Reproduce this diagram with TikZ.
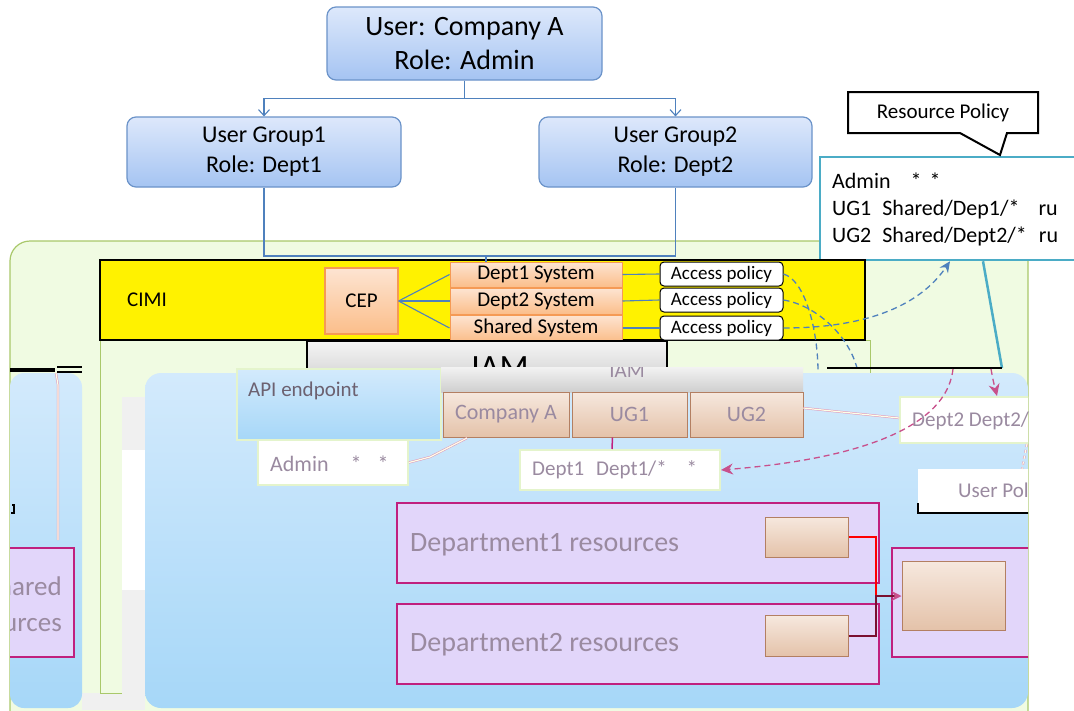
\documentclass[tikz,border=0pt]{standalone}
\usepackage{fontspec}
\setmainfont{Carlito}
\usetikzlibrary{arrows.meta}
\definecolor{bluetop}{HTML}{DDE8FB}
\definecolor{bluebot}{HTML}{A5C4F2}
\definecolor{bluebd}{HTML}{6B93C9}
\definecolor{connblue}{HTML}{4F81BD}
\definecolor{ortop}{HTML}{FDE4D2}
\definecolor{orbot}{HTML}{FBBE8A}
\definecolor{orbd}{HTML}{F59A55}
\definecolor{grfill}{HTML}{F0FBE2}
\definecolor{grbd}{HTML}{A9C86A}
\definecolor{paneltop}{HTML}{D3EAFC}
\definecolor{panelbot}{HTML}{A6D7F8}
\definecolor{peachtop}{HTML}{F6E8DE}
\definecolor{peachbot}{HTML}{E4C2A9}
\definecolor{peachbd}{HTML}{B37F62}
\definecolor{lav}{HTML}{E2D6FA}
\definecolor{magbd}{HTML}{C0207E}
\definecolor{tealbd}{HTML}{4BACC6}
\definecolor{pinkd}{HTML}{C8508C}
\definecolor{ghost}{HTML}{9A8AA0}
\definecolor{lightgrbd}{HTML}{E4F4CC}
\definecolor{maroonc}{HTML}{7A1030}
\newcommand{\myfs}[2]{\fontsize{#1}{#2}\selectfont}
\begin{document}
\begin{tikzpicture}[x=1pt,y=-1pt,
  ubox/.style={draw=bluebd, line width=1.2pt, rounded corners=9pt, top color=bluetop, bottom color=bluebot, align=center, inner sep=0pt},
  sysbox/.style={draw=orbd, line width=1pt, top color=ortop, bottom color=orbot, inner sep=0pt, minimum width=172pt, font=\myfs{21}{24}},
  apbox/.style={draw=black, line width=1pt, fill=white, rounded corners=4pt, inner sep=0pt, minimum width=123pt, minimum height=24pt, font=\myfs{19}{22}},
  conn/.style={draw=connblue, line width=1.1pt},
  bdash/.style={draw=connblue, line width=1.3pt, dash pattern=on 6pt off 4pt},
  pdash/.style={draw=pinkd, line width=1.3pt, dash pattern=on 6pt off 4pt},
  peach/.style={draw=peachbd, line width=1pt, top color=peachtop, bottom color=peachbot, inner sep=0pt},
  lavbox/.style={draw=magbd, line width=1.2pt, fill=lav, inner sep=0pt},
  wbox/.style={draw=lightgrbd, line width=2pt, fill=white, inner sep=0pt},
  ghosttext/.style={text=ghost, inner sep=0pt},
  dbl/.style={draw=pinkd!60, double=yellow!10, double distance=1.2pt, line width=0.5pt},
]
\clip (0,0) rectangle (1074,710);
\fill[white] (0,0) rectangle (1074,710);

% green area
\draw[grbd, fill=grfill, line width=1.2pt, rounded corners=20pt] (10,241) rectangle (1028,760);

% resource policy box and callout
\node[draw=tealbd, line width=2.5pt, fill=white, minimum width=260pt, minimum height=103pt, inner sep=0pt] (rp) at (950,208.5) {};
\node[anchor=west, align=left, font=\myfs{22}{27}, inner sep=0pt] (rpt) at (832,209) {Admin\hspace{20pt}*\hspace{8pt}*\\UG1\hspace{11pt}Shared/Dep1/*\hspace{19pt}ru\\UG2\hspace{11pt}Shared/Dept2/*\hspace{12pt}ru};
\draw[black, line width=2pt, fill=white] (848,92) -- (1038,92) -- (1038,133) -- (1007,133) -- (1000,155) -- (960,133) -- (848,133) -- cycle;
\node[font=\myfs{21}{24}, inner sep=0pt] (rpc) at (943,113) {Resource Policy};

\begin{scope}
\clip (10,0) rectangle (1028,710);
\fill[gray!12] (82,693) rectangle (145,710);
% inner green
\draw[grbd, fill=grfill, line width=1pt] (100,340) rectangle (870,693);
\fill[gray!12] (122,397) rectangle (145,450);
\fill[white] (122,450) rectangle (145,590);
\fill[gray!12] (122,590) rectangle (145,710);

% CIMI
\node[draw=black, line width=1.3pt, fill=yellow, minimum width=765pt, minimum height=80pt, inner sep=0pt] (cimi) at (482.5,300) {};
\node[inner sep=0pt, font=\myfs{21}{24}] (cimil) at (147,300) {CIMI};
\node[draw=orbd, line width=1.2pt, top color=ortop, bottom color=orbot, minimum width=73pt, minimum height=66pt, inner sep=0pt, font=\myfs{21}{24}] (cep) at (361.5,301) {CEP};
\node[sysbox, minimum height=25pt] (s1) at (536,274.5) {Dept1 System};
\node[sysbox, minimum height=26pt] (s2) at (536,301) {Dept2 System};
\node[sysbox, minimum height=26pt] (s3) at (536,328) {Shared System};
\node[apbox] (ap1) at (721.5,274) {Access policy};
\node[apbox] (ap2) at (721.5,300) {Access policy};
\node[apbox] (ap3) at (721.5,328) {Access policy};
\draw[conn] (cep.east) -- (s1.west);
\draw[conn] (cep.east) -- (s2.west);
\draw[conn] (cep.east) -- (s3.west);
\draw[conn] (s1.east) -- (ap1.west);
\draw[conn] (s2.east) -- (ap2.west);
\draw[conn] (s3.east) -- (ap3.west);

% IAM
\node[draw=black, line width=1.3pt, top color=gray!8, bottom color=gray!35, minimum width=360pt, minimum height=40pt, inner sep=0pt] (iam) at (487,361) {};
\node[anchor=base, font=\myfs{34}{40}, inner sep=0pt] (iamt) at (500,378) {IAM};

% dashed blue curves
\coordinate (bc1) at (818,372);
\coordinate (bc2) at (858,372);
\draw[bdash] (ap1.east) .. controls (805,280) and (818,330) .. (bc1);
\draw[bdash] (ap2.east) .. controls (815,305) and (850,335) .. (bc2);
\draw[bdash, -{Stealth[length=11pt,width=10pt]}] (ap3.east) .. controls (880,328) and (925,298) .. (rp.south);

% teal line and black line
\coordinate (tl) at (1002,368);
\draw[tealbd, line width=2.5pt] ([xshift=33pt]rp.south) -- (tl);
\coordinate (bl1) at (827,368);
\draw[black, line width=2pt] (bl1) -- (tl);

% left bars
\draw[black, line width=4pt] (10,370) -- (55,370);
\draw[black, line width=1.2pt] (57,367) -- (82,367);
\draw[black, line width=1.2pt] (57,372) -- (82,372);

% panels
\shade[top color=paneltop, bottom color=panelbot, rounded corners=14pt] (10,373) rectangle (82,708);
\shade[top color=paneltop, bottom color=panelbot, rounded corners=16pt] (145,373) rectangle (1028,708);

% left details
\draw[dbl] (56,373) -- (58,385) -- (58,540);
\draw[black, line width=1.5pt] (12,505) -- (14,505) -- (14,513) -- (11,513);
\node[lavbox, minimum width=80pt, minimum height=109pt] (shr) at (34,602.5) {};
\node[ghosttext, anchor=east, align=right, font=\myfs{27}{36}] (shrt) at (62,604) {Shared\\resources};

% API endpoint
\node[draw=lightgrbd, line width=2pt, top color=paneltop, bottom color=panelbot, minimum width=204pt, minimum height=71pt, inner sep=0pt] (api) at (339,404.5) {};
\node[ghosttext, text=ghost!70!black, anchor=west, font=\myfs{21}{24}] (apit) at (248,391) {API endpoint};

% IAM bar
\node[top color=gray!10, bottom color=gray!38, minimum width=362pt, minimum height=25pt, inner sep=0pt] (iamb) at (622,379.5) {};
\begin{scope}
\clip (441,367) rectangle (803,392);
\node[ghosttext, anchor=base, font=\myfs{21}{24}] (iambt) at (627,377) {IAM};
\end{scope}

\node[peach, minimum width=126pt, minimum height=45pt, font=\myfs{22}{26}, text=ghost] (ca) at (506,414.5) {Company A};
\node[peach, minimum width=115pt, minimum height=45pt, font=\myfs{22}{26}, text=ghost] (u1) at (629.5,414.5) {UG1};
\node[peach, minimum width=113pt, minimum height=45pt, font=\myfs{22}{26}, text=ghost] (u2) at (746.5,414.5) {UG2};

% policy boxes
\node[wbox, minimum width=150pt, minimum height=45pt] (adm) at (333,462.5) {};
\node[ghosttext, anchor=west, font=\myfs{22}{26}] (admt) at (270,464) {Admin\hspace{22pt}*\hspace{16pt}*};
\node[wbox, minimum width=200pt, minimum height=40pt] (dp1) at (620,470) {};
\node[ghosttext, anchor=west, font=\myfs{21}{24}] (dp1t) at (532,470) {Dept1\hspace{12pt}Dept1/*\hspace{20pt}*};
\node[wbox, minimum width=140pt, minimum height=46pt] (dp2) at (970,420) {};
\node[ghosttext, anchor=west, font=\myfs{21}{24}] (dp2t) at (912,421) {Dept2 Dept2/*\hspace{15pt}*};
\node[fill=white, minimum width=130pt, minimum height=44pt, inner sep=0pt] (upol) at (983,491) {};
\draw[black, line width=1.5pt] ([yshift=10pt]upol.south west) -- (upol.south west) -- (upol.south east);
\node[ghosttext, anchor=west, font=\myfs{21}{24}] (upolt) at (958,492) {User Policy};

\coordinate (ca1) at (467,438);
\coordinate (ca2) at (430,457);
\draw[dbl] (ca1) -- (ca2) -- (adm.east);
\draw[draw=magbd, line width=1.5pt] ([xshift=-17pt]u1.south) -- ([xshift=-8pt]dp1.north);
\draw[dbl] ([yshift=6.5pt]u2.east) -- ([yshift=2pt]dp2.west);
\draw[dbl, dashed] ([xshift=57pt]dp2.south) -- ([xshift=39pt]upol.north);

% pink dashed arrows
\coordinate (pa) at (953,369);
\coordinate (pb) at (991,369);
\draw[pdash, -{Stealth[length=12pt,width=11pt]}] (pa) .. controls (945,440) and (820,462) .. (dp1.east);
\draw[pdash, -{Stealth[length=12pt,width=11pt]}] (pb) .. controls (993,380) .. ([xshift=27pt]dp2.north);

% resources
\node[lavbox, minimum width=482pt, minimum height=80pt] (dr1) at (638,543) {};
\node[ghosttext, anchor=west, font=\myfs{28}{32}] (dr1t) at (410,545) {Department1 resources};
\node[peach, minimum width=83pt, minimum height=40pt] (r1) at (806.5,537) {};
\node[lavbox, minimum width=482pt, minimum height=80pt] (dr2) at (638,644) {};
\node[ghosttext, anchor=west, font=\myfs{28}{32}] (dr2t) at (410,645) {Department2 resources};
\node[peach, minimum width=83pt, minimum height=41pt] (r2) at (806.5,636) {};
\node[lavbox, minimum width=150pt, minimum height=109pt] (rr) at (967,602.5) {};
\node[peach, minimum width=103pt, minimum height=69pt] (rin) at (953.5,596) {};
\coordinate (jr) at (876,596);
\draw[red, line width=1.5pt] (r1.east) -| (jr);
\draw[maroonc, line width=1.5pt, -{Stealth[length=10pt,width=10pt,color=pinkd]}] (r2.east) -| (jr) -- (rin.west);
\end{scope}

% top hierarchy
\node[ubox, minimum width=275pt, minimum height=73pt, font=\myfs{28}{34}] (usr) at (464.5,43.5) {User: Company A\\Role: Admin};
\node[ubox, minimum width=274pt, minimum height=70pt, font=\myfs{24}{30}] (ug1) at (264,152) {User Group1\\Role: Dept1};
\node[ubox, minimum width=273pt, minimum height=70pt, font=\myfs{24}{30}] (ug2) at (675.5,152) {User Group2\\Role: Dept2};
\draw[conn, -{Straight Barb[length=6pt,width=11pt]}] (usr.south) -- ++(0,18) -| (ug1.north);
\draw[conn, -{Straight Barb[length=6pt,width=11pt]}] (usr.south) -- ++(0,18) -| (ug2.north);
\coordinate (jn) at (486,256);
\draw[conn] (ug1.south) |- (jn) -| (ug2.south);
\draw[conn] (jn) -- (jn |- s1.north);
\end{tikzpicture}
\end{document}
